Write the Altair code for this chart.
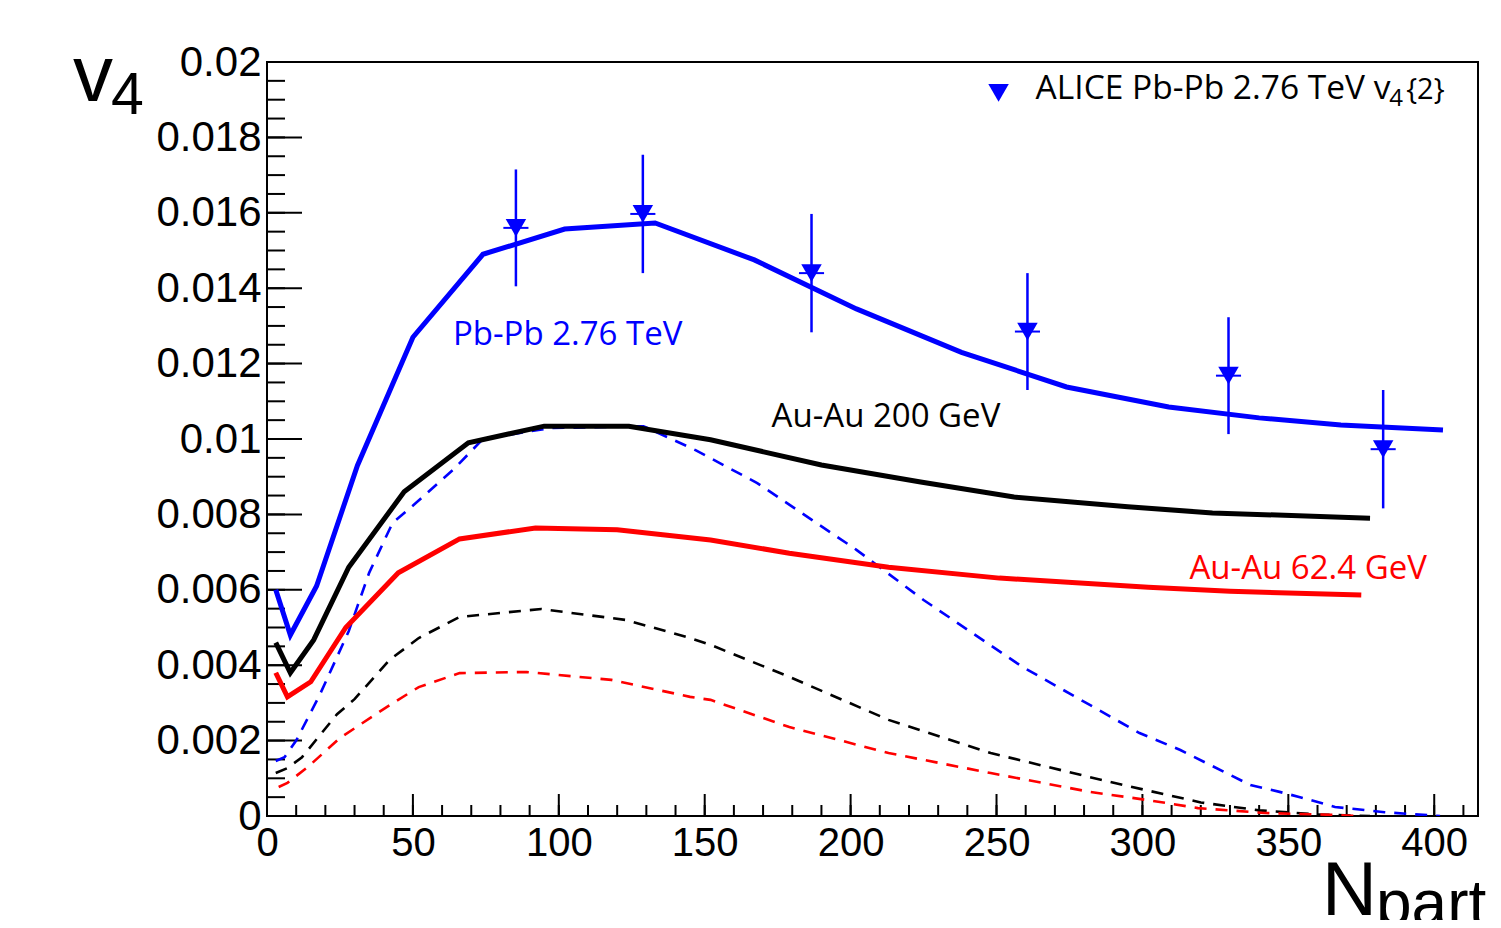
import altair as alt
import pandas as pd

# ---------------- data ----------------
# Pb-Pb 2.76 TeV, full (solid blue)
pbpb_x = [3, 8, 17, 31, 50, 74, 102, 133, 167, 202, 238, 274, 309, 340, 368, 403]
pbpb_y = [0.0060, 0.0048, 0.0061, 0.0093, 0.0127, 0.0149, 0.01557, 0.01573, 0.01475,
          0.01345, 0.0123, 0.01138, 0.01085, 0.01056, 0.01037, 0.01024]
# Au-Au 200 GeV (solid black)
auau200_x = [3, 8, 16, 28, 47, 69, 95, 124, 152, 190, 224, 256, 295, 324, 378]
auau200_y = [0.0046, 0.0038, 0.00467, 0.0066, 0.0086, 0.0099, 0.01034, 0.01034, 0.00998,
             0.00931, 0.00886, 0.00846, 0.0082, 0.00804, 0.0079]
# Au-Au 62.4 GeV (solid red)
auau62_x = [3, 7, 15, 27, 45, 66, 92, 120, 152, 179, 213, 251, 302, 330, 375]
auau62_y = [0.0038, 0.00316, 0.00356, 0.0050, 0.00645, 0.00735, 0.00764, 0.00759, 0.00732,
            0.00697, 0.0066, 0.00631, 0.00607, 0.00596, 0.00586]
# dashed companions
pbpb_d_x = [3, 6, 10, 18, 28, 35, 43, 51, 64, 74, 97, 129, 147, 168, 202, 225, 259, 299,
            313, 337, 347, 354, 366, 383, 392, 402]
pbpb_d_y = [0.00146, 0.00156, 0.0020, 0.0032, 0.0049, 0.00645, 0.00777, 0.0083, 0.0092, 0.0100,
            0.01029, 0.01034, 0.0097, 0.00883, 0.00706, 0.00573, 0.00395, 0.0022,
            0.00175, 0.00082, 0.00064, 0.0005, 0.00024, 0.0001, 0.00005, 0.0]
auau200_d_x = [3, 7, 12, 24, 30, 42, 52, 66, 94, 123, 145, 152, 179, 213, 248, 282, 301,
               320, 340, 360, 378]
auau200_d_y = [0.00114, 0.00127, 0.00156, 0.0027, 0.0031, 0.00414, 0.00472, 0.00528, 0.00549,
               0.0052, 0.00472, 0.00454, 0.00369, 0.00255, 0.00167, 0.00103, 0.00069,
               0.00036, 0.00015, 0.00004, 0.0]
auau62_d_x = [4, 7, 14, 25, 41, 52, 66, 89, 118, 145, 152, 179, 213, 248, 282, 302, 319,
              342, 365, 375]
auau62_d_y = [0.00077, 0.00088, 0.0013, 0.00207, 0.00289, 0.00342, 0.00379, 0.00382, 0.00361,
              0.00316, 0.00308, 0.00236, 0.00167, 0.00114, 0.00064, 0.00042, 0.00021,
              0.00008, 0.00003, 0.0]
# ALICE v4{2} data
alice_x = [85.3, 128.8, 186.6, 260.6, 329.5, 382.5]
alice_y = [0.0156, 0.01597, 0.0144, 0.01285, 0.01168, 0.00973]
alice_err = [0.00155, 0.00157, 0.00157, 0.00155, 0.00155, 0.00157]
alice_xerr = [4.3, 4.3, 4.3, 4.3, 4.3, 4.3]

# axis ticks
x_major = [0, 50, 100, 150, 200, 250, 300, 350, 400]
x_minor = list(range(0, 411, 10))
y_major = [0, 0.002, 0.004, 0.006, 0.008, 0.01, 0.012, 0.014, 0.016, 0.018, 0.02]
y_minor = [i * 0.0005 for i in range(0, 41)]

# annotations
labels_text = ["Pb-Pb 2.76 TeV", "Au-Au 200 GeV", "Au-Au 62.4 GeV"]
labels_x = [63.7, 172.9, 316.1]
labels_y = [0.01249, 0.01032, 0.00628]
labels_color = ["#0000ff", "#000000", "#ff0000"]

legend_marker_x = [250.7]
legend_marker_y = [0.01918]
legend_text = ["ALICE Pb-Pb 2.76 TeV v", "4", "{2}"]
legend_text_x = [263.4, 384.6, 390.4]
legend_text_y = [0.01902, 0.01882, 0.01902]
legend_text_size = [33.5, 24, 29]

# ---------------- chart ----------------
W, H = 1211, 754
xscale = alt.Scale(domain=[0, 415], nice=False, zero=False)
yscale = alt.Scale(domain=[0, 0.02], nice=False, zero=False)
xaxis = alt.Axis(values=x_major, ticks=False, tickSize=0, domain=False, grid=False,
                 labelFont="Liberation Sans", labelFontSize=40, labelColor="black",
                 labelPadding=7, title=None, labelFlush=False)
yaxis = alt.Axis(values=y_major, ticks=False, tickSize=0, domain=False, grid=False,
                 labelFont="Liberation Sans", labelFontSize=42, labelColor="black",
                 labelPadding=6, format="~g", title=None, labelFlush=False)


def X(f="x"):
    return alt.X(f"{f}:Q", scale=xscale, axis=xaxis)


def Y(f="y"):
    return alt.Y(f"{f}:Q", scale=yscale, axis=yaxis)


def curve(xs, ys, color, width, dash=None):
    df = pd.DataFrame({"x": xs, "y": ys})
    kw = dict(color=color, strokeWidth=width, interpolate="linear", clip=True)
    if dash:
        kw["strokeDash"] = dash
    return alt.Chart(df).mark_line(**kw).encode(x=X(), y=Y(), order="x:Q")


layers = []
# ticks (inside the frame)
layers.append(alt.Chart(pd.DataFrame({"x": x_minor})).mark_rule(color="black", strokeWidth=2)
              .encode(x=X(), y=alt.value(H), y2=alt.value(H - 11)))
layers.append(alt.Chart(pd.DataFrame({"x": x_major})).mark_rule(color="black", strokeWidth=2)
              .encode(x=X(), y=alt.value(H), y2=alt.value(H - 22)))
layers.append(alt.Chart(pd.DataFrame({"y": y_minor})).mark_rule(color="black", strokeWidth=2)
              .encode(y=Y(), x=alt.value(0), x2=alt.value(18)))
layers.append(alt.Chart(pd.DataFrame({"y": y_major})).mark_rule(color="black", strokeWidth=2)
              .encode(y=Y(), x=alt.value(0), x2=alt.value(35)))

dash = [12, 9]
layers += [
    curve(pbpb_d_x, pbpb_d_y, "#0000ff", 2.6, dash),
    curve(auau200_d_x, auau200_d_y, "#000000", 2.6, dash),
    curve(auau62_d_x, auau62_d_y, "#ff0000", 2.6, dash),
    curve(auau62_x, auau62_y, "#ff0000", 5),
    curve(auau200_x, auau200_y, "#000000", 5),
    curve(pbpb_x, pbpb_y, "#0000ff", 5),
]

alice = pd.DataFrame({"x": alice_x, "y": alice_y, "err": alice_err, "xerr": alice_xerr})
alice_base = alt.Chart(alice).transform_calculate(
    ylo="datum.y - datum.err", yhi="datum.y + datum.err",
    xlo="datum.x - datum.xerr", xhi="datum.x + datum.xerr")
layers.append(alice_base.mark_rule(color="#0000ff", strokeWidth=2.5)
              .encode(x=X(), y=Y("ylo"), y2="yhi:Q"))
layers.append(alice_base.mark_rule(color="#0000ff", strokeWidth=2)
              .encode(x=X("xlo"), x2="xhi:Q", y=Y()))
layers.append(alice_base.mark_point(shape="triangle-down", filled=True, size=420,
                                    color="#0000ff", opacity=1)
              .encode(x=X(), y=Y()))

# legend
layers.append(alt.Chart(pd.DataFrame({"x": legend_marker_x, "y": legend_marker_y}))
              .mark_point(shape="triangle-down", filled=True, size=420, color="#0000ff", opacity=1)
              .encode(x=X(), y=Y()))
leg = pd.DataFrame({"x": legend_text_x, "y": legend_text_y, "t": legend_text,
                    "s": legend_text_size})
layers.append(alt.Chart(leg).mark_text(align="left", baseline="alphabetic", font="Open Sans",
                                       color="black")
              .encode(x=X(), y=Y(), text="t:N",
                      size=alt.Size("s:Q", scale=None, legend=None)))

# curve labels
lab = pd.DataFrame({"x": labels_x, "y": labels_y, "t": labels_text, "c": labels_color})
layers.append(alt.Chart(lab).mark_text(align="left", baseline="alphabetic", font="Open Sans",
                                       fontSize=33)
              .encode(x=X(), y=Y(), text="t:N",
                      color=alt.Color("c:N", scale=None, legend=None)))

# axis titles (v_4 and N_part)
one = pd.DataFrame({"a": [0]})
layers.append(alt.Chart(one).mark_text(text="v", font="Liberation Sans", fontSize=80,
                                       align="left", baseline="alphabetic", color="black")
              .encode(x=alt.value(-194), y=alt.value(39)))
layers.append(alt.Chart(one).mark_text(text="4", font="Liberation Sans", fontSize=59,
                                       align="left", baseline="alphabetic", color="black")
              .encode(x=alt.value(-156), y=alt.value(52)))
layers.append(alt.Chart(one).mark_text(text="N", font="Liberation Sans", fontSize=76,
                                       align="left", baseline="alphabetic", color="black")
              .encode(x=alt.value(1055), y=alt.value(853)))
layers.append(alt.Chart(one).mark_text(text="part", font="Liberation Sans", fontSize=64,
                                       align="left", baseline="alphabetic", color="black")
              .encode(x=alt.value(1109), y=alt.value(863)))

chart = alt.layer(*layers).properties(
    width=W, height=H,
    autosize=alt.AutoSizeParams(type="none"),
    padding={"left": 259, "top": 54, "right": 15, "bottom": 104},
).configure_view(stroke="black", strokeWidth=2).configure_axis(grid=False)

chart.save("out.html", embed_options={"renderer": "svg", "actions": False})
